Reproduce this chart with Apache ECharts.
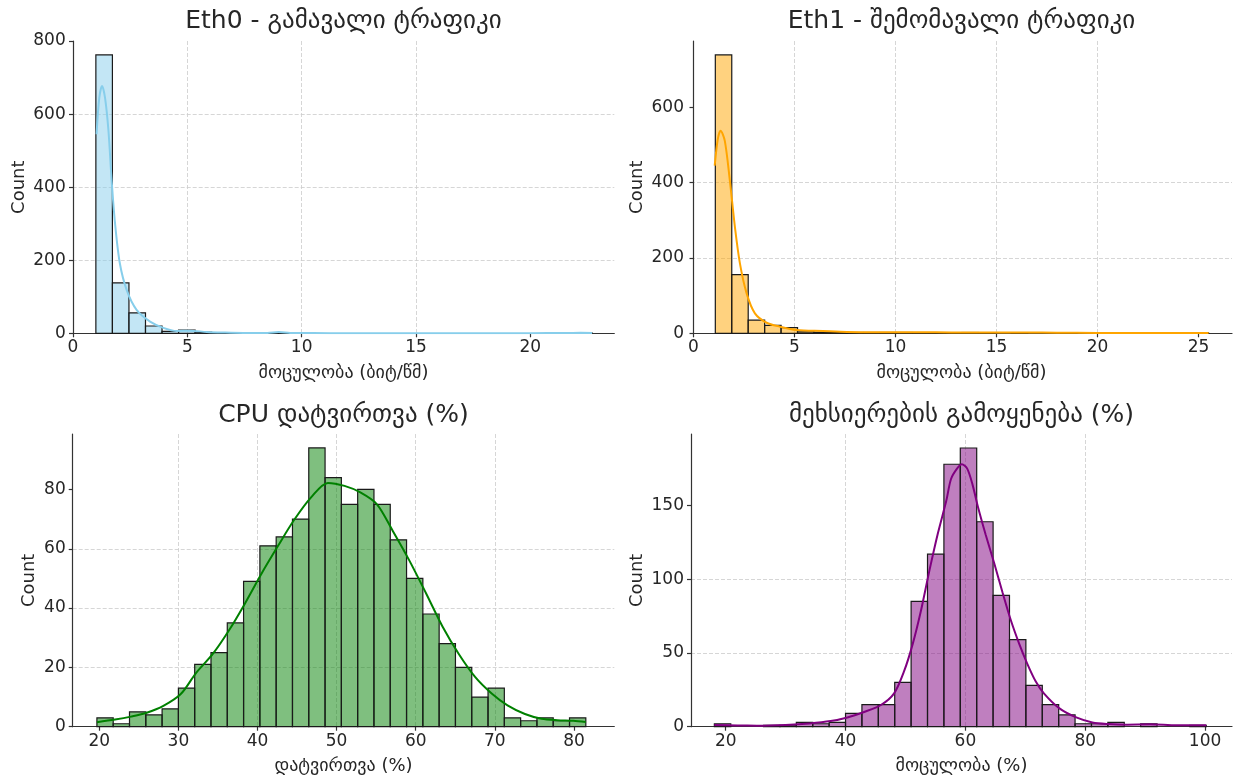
<!DOCTYPE html>
<html>
<head>
<meta charset="utf-8">
<script src="https://cdn.jsdelivr.net/npm/echarts@6/dist/echarts.min.js"></script>
<style>
  html, body { margin: 0; padding: 0; background: #ffffff; }
  #chart { width: 1238px; height: 783px; }
</style>
</head>
<body>
<div id="chart"></div>
<script>
// ---- Histogram counts (30 equal-width bins per panel) ----
const eth0Range = [1.0, 22.7];
const eth0Counts = [762, 138, 56, 20, 5, 9, 3, 2, 1, 1, 1, 2, 1, 0, 0, 0, 0, 0, 0, 0, 0, 0, 0, 0, 0, 0, 0, 0, 0, 1];

const eth1Range = [1.08, 25.5];
const eth1Counts = [739, 156, 35, 21, 15, 4, 3, 3, 2, 2, 2, 2, 1, 1, 1, 2, 1, 0, 1, 0, 0, 1, 0, 0, 0, 0, 0, 0, 0, 1];

const cpuRange = [19.7, 81.5];
const cpuCounts = [3, 1, 5, 4, 6, 13, 21, 25, 35, 49, 61, 64, 70, 94, 84, 75, 80, 75, 63, 50, 38, 28, 20, 10, 13, 3, 2, 3, 2, 3];

const memRange = [18.1, 100.2];
const memCounts = [2, 0, 0, 1, 1, 3, 2, 3, 9, 15, 15, 30, 85, 117, 178, 189, 139, 89, 59, 28, 15, 8, 2, 2, 3, 0, 2, 0, 0, 1];

// ---- Density curves, scaled to counts ----
const eth0KdeX = [1.03, 1.15, 1.27, 1.4, 1.55, 1.69, 1.84, 2.05, 2.35, 2.78, 3.37, 3.95, 4.53, 5.1, 5.85, 6.6, 7.45, 8.5, 9.0, 9.5, 10.5, 12, 14, 16, 18, 20, 21.5, 22.2, 22.7];
const eth0KdeY = [545, 645, 677, 645, 555, 418, 300, 191, 118, 64, 32, 15, 6.4, 7.3, 3.6, 2, 1, 1, 3.6, 1, 0.5, 0.3, 0.2, 0.2, 0.2, 0.3, 0.8, 1.2, 0.8];

const eth1KdeX = [1.05, 1.2, 1.34, 1.55, 1.8, 2.05, 2.3, 2.63, 3.04, 3.62, 4.28, 5.1, 6.4, 7.6, 9, 10.5, 12, 13.5, 15, 16.5, 18, 20, 22, 24, 25.5];
const eth1KdeY = [445, 515, 538, 511, 405, 282, 185, 106, 53, 28, 17.6, 8.8, 6, 3.5, 3, 2.5, 2.5, 2, 2, 2, 1.5, 1, 1, 1, 1];

const cpuKdeX = [19.7, 22, 24, 26, 28.1, 30.3, 32.2, 34.4, 36.4, 38.4, 40.5, 42.6, 44.6, 46.8, 48.9, 51.0, 53.0, 55.1, 57.1, 59.2, 61.3, 63.4, 65.4, 67.5, 69.6, 71.6, 73.8, 75.9, 77.9, 79.9, 81.5];
const cpuKdeY = [1.5, 2.4, 3.4, 4.7, 7, 11, 18, 24.7, 32.5, 41.5, 51.6, 61, 69.6, 77.4, 82.2, 81.2, 79, 75, 66, 56, 45, 33.7, 24.7, 16.8, 11.2, 7.2, 4.3, 2.7, 2.2, 2.0, 1.6];

const memKdeX = [18.1, 22, 25.2, 30, 34, 37.5, 40.3, 43.1, 45.9, 48.1, 49.8, 51.2, 52.6, 54.0, 55.4, 56.8, 57.6, 58.6, 59.4, 60.3, 61.2, 62.1, 63.4, 64.8, 66.2, 67.6, 69.0, 70.3, 71.7, 73.1, 75.7, 78.5, 81.2, 84.0, 86.7, 90.8, 95.3, 100.2];
const memKdeY = [1.1, 0.8, 0.7, 1.2, 2.2, 3.8, 6.3, 10, 14.7, 22.6, 38, 56, 79, 106, 131, 153, 168, 175, 178, 175, 164, 149, 130, 111, 91, 72, 56, 43, 31, 22.6, 12.4, 6.3, 2.9, 1.8, 1.4, 1.6, 0.9, 0.9];

// ---- Tick labels ----
const eth0XTicks = [0, 5, 10, 15, 20];
const eth0YTicks = [0, 200, 400, 600, 800];
const eth1XTicks = [0, 5, 10, 15, 20, 25];
const eth1YTicks = [0, 200, 400, 600];
const cpuXTicks = [20, 30, 40, 50, 60, 70, 80];
const cpuYTicks = [0, 20, 40, 60, 80];
const memXTicks = [20, 40, 60, 80, 100];
const memYTicks = [0, 50, 100, 150];

// ---- Texts ----
const titles = ['Eth0 - გამავალი ტრაფიკი', 'Eth1 - შემომავალი ტრაფიკი', 'CPU დატვირთვა (%)', 'მეხსიერების გამოყენება (%)'];
const xNames = ['მოცულობა (ბიტ/წმ)', 'მოცულობა (ბიტ/წმ)', 'დატვირთვა (%)', 'მოცულობა (%)'];
const yName = 'Count';

const FONT = 'DejaVu Sans';
const TEXT = '#262626';

const panels = [
  { range: eth0Range, counts: eth0Counts, kx: eth0KdeX, ky: eth0KdeY, xt: eth0XTicks, yt: eth0YTicks,
    fill: 'rgba(135,206,235,0.5)', line: '#87ceeb',
    grid: { left: 72.7, top: 41, width: 541.6, height: 292.3 }, xMin: -0.013, xMax: 23.67, yMax: 800.1, yGap: 44 },
  { range: eth1Range, counts: eth1Counts, kx: eth1KdeX, ky: eth1KdeY, xt: eth1XTicks, yt: eth1YTicks,
    fill: 'rgba(255,165,0,0.5)', line: '#ffa500',
    grid: { left: 691, top: 41, width: 541, height: 292.3 }, xMin: -0.124, xMax: 26.66, yMax: 776, yGap: 45 },
  { range: cpuRange, counts: cpuCounts, kx: cpuKdeX, ky: cpuKdeY, xt: cpuXTicks, yt: cpuYTicks,
    fill: 'rgba(0,128,0,0.5)', line: '#008000',
    grid: { left: 72.7, top: 434, width: 541.6, height: 292.7 }, xMin: 16.64, xMax: 85.1, yMax: 98.7, yGap: 34 },
  { range: memRange, counts: memCounts, kx: memKdeX, ky: memKdeY, xt: memXTicks, yt: memYTicks,
    fill: 'rgba(128,0,128,0.5)', line: '#800080',
    grid: { left: 691, top: 434, width: 541, height: 292.7 }, xMin: 14.2, xMax: 104.5, yMax: 198.5, yGap: 45 }
];

// Bin rows [start, end, count] built from each panel's range and counts
function binRows(range, counts) {
  const w = (range[1] - range[0]) / counts.length;
  return counts.map((c, i) => [range[0] + i * w, range[0] + (i + 1) * w, c]);
}

const axisLineStyle = { color: '#333333', width: 1.2 };
const gridLineStyle = { color: '#cccccc', width: 0.8, type: [4, 2] };

const grids = [], xAxes = [], yAxes = [], series = [], titleOpts = [];

panels.forEach((p, i) => {
  grids.push(Object.assign({ containLabel: false }, p.grid));
  const center = p.grid.left + p.grid.width / 2;
  titleOpts.push({
    text: titles[i], left: center, top: i < 2 ? 9 : 403, textAlign: 'center', padding: 0,
    textStyle: { fontFamily: FONT, fontSize: 25, fontWeight: 'normal', color: TEXT }
  });
  xAxes.push({
    type: 'value', gridIndex: i, min: p.xMin, max: p.xMax,
    name: xNames[i], nameLocation: 'middle', nameGap: 31,
    nameTextStyle: { fontFamily: FONT, fontSize: 18, color: TEXT },
    axisLine: { show: true, onZero: false, lineStyle: axisLineStyle },
    axisTick: { show: true, length: 4, customValues: p.xt, lineStyle: axisLineStyle },
    axisLabel: { customValues: p.xt, fontFamily: FONT, fontSize: 17, color: TEXT, margin: 6 },
    splitLine: { show: true, lineStyle: gridLineStyle, showMinLine: false, showMaxLine: false }
  });
  yAxes.push({
    type: 'value', gridIndex: i, min: 0, max: p.yMax,
    name: yName, nameLocation: 'middle', nameGap: p.yGap,
    nameTextStyle: { fontFamily: FONT, fontSize: 18, color: TEXT },
    axisLine: { show: true, lineStyle: axisLineStyle },
    axisTick: { show: true, length: 4, customValues: p.yt, lineStyle: axisLineStyle },
    axisLabel: { customValues: p.yt, fontFamily: FONT, fontSize: 17, color: TEXT, margin: 7 },
    splitLine: { show: true, lineStyle: gridLineStyle, showMinLine: false, showMaxLine: false }
  });
  series.push({
    type: 'custom', xAxisIndex: i, yAxisIndex: i,
    data: binRows(p.range, p.counts),
    encode: { x: [0, 1], y: 2 },
    renderItem: function (params, api) {
      const c = api.value(2);
      if (!c) return null;
      const a = api.coord([api.value(0), c]);
      const b = api.coord([api.value(1), 0]);
      return {
        type: 'rect',
        shape: { x: a[0], y: a[1], width: b[0] - a[0], height: b[1] - a[1] },
        style: { fill: p.fill, stroke: '#1a1a1a', lineWidth: 1.2 }
      };
    },
    z: 2
  });
  series.push({
    type: 'line', xAxisIndex: i, yAxisIndex: i,
    data: p.kx.map((x, k) => [x, p.ky[k]]),
    showSymbol: false, smooth: 0.3,
    lineStyle: { color: p.line, width: 2 },
    z: 3
  });
});

const chart = echarts.init(document.getElementById('chart'), null, { renderer: 'canvas' });
chart.setOption({
  animation: false,
  backgroundColor: '#ffffff',
  title: titleOpts,
  grid: grids,
  xAxis: xAxes,
  yAxis: yAxes,
  series: series
});
</script>
</body>
</html>
